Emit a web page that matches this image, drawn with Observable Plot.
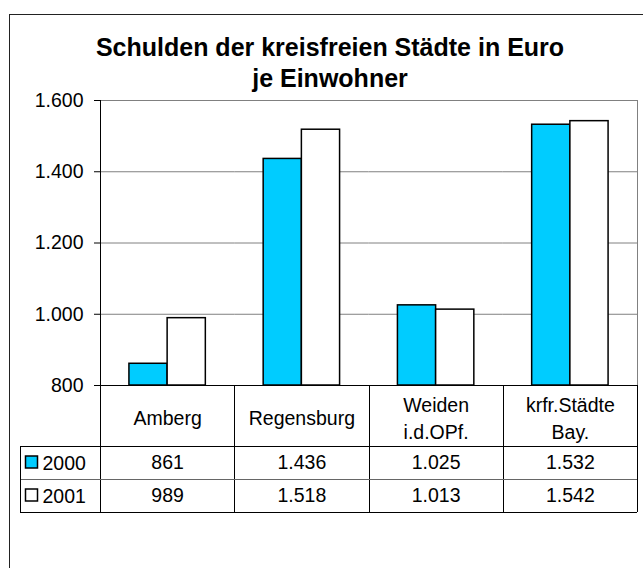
<!DOCTYPE html>
<html><head><meta charset="utf-8">
<script src="https://cdn.jsdelivr.net/npm/d3@7"></script>
<script src="https://cdn.jsdelivr.net/npm/@observablehq/plot@0.6"></script>
<style>
body{margin:0;background:#fff;}
#wrap{position:relative;width:643px;height:568px;overflow:hidden;background:#fff;font-family:"Liberation Sans",Arial,sans-serif;}
#frame{position:absolute;left:9px;top:14px;width:700px;height:600px;border-left:1px solid #222;border-top:1px solid #222;}
#chart{position:absolute;left:0;top:0;}
#title{position:absolute;left:0;width:660px;top:32px;text-align:center;font-weight:bold;font-size:25px;line-height:31px;color:#000;}
</style></head>
<body>
<div id="wrap">
  <div id="frame"></div>
  <div id="chart"></div>
  <div id="title">Schulden der kreisfreien Städte in Euro<br>je Einwohner</div>
</div>
<script>
const cities = ["Amberg", "Regensburg", "Weiden i.d.OPf.", "krfr.Städte Bay."];
const cityLabels = ["Amberg", "Regensburg", "Weiden\ni.d.OPf.", "krfr.Städte\nBay."];
const years = ["2000", "2001"];
const values2000 = [861, 1436, 1025, 1532];
const values2001 = [989, 1518, 1013, 1542];
const yTicks = [800, 1000, 1200, 1400, 1600];
const yDomain = [800, 1600];
const yearColors = ["#00CCFF", "#FFFFFF"];

const de = d3.formatLocale({decimal: ",", thousands: ".", grouping: [3], currency: ["", "€"]});
const fmt = de.format(",d");

const seriesValues = [values2000, values2001];
const data = [];
years.forEach((yr, j) => cities.forEach((c, i) => data.push({city: c, year: yr, value: seriesValues[j][i], row: j})));
const labelOf = new Map(cities.map((c, i) => [c, cityLabels[i]]));

const FS = 19.5;
const plot = Plot.plot({
  width: 643, height: 568,
  marginTop: 100, marginBottom: 183, marginLeft: 100, marginRight: 6,
  style: {fontFamily: "'Liberation Sans', Arial, sans-serif", fontSize: FS + "px", background: "transparent", color: "#000", overflow: "visible"},
  fx: {domain: cities, padding: 0, axis: null, round: false, label: null},
  x: {domain: years, paddingInner: 0, paddingOuter: 0.757, axis: null, round: false},
  y: {domain: yDomain, ticks: yTicks, tickFormat: fmt, tickSize: 6, tickPadding: 11, label: null},
  color: {domain: years, range: yearColors},
  marks: [
    Plot.ruleY(yTicks.slice(1, -1), {y: d => d, stroke: "#808080", strokeWidth: 1}),
    Plot.barY(data, {fx: "city", x: "year", y1: yDomain[0], y2: "value", fill: "year", stroke: "#000", strokeWidth: 1.5}),
    Plot.text(cities, {fx: d => d, text: d => labelOf.get(d), frameAnchor: "bottom", lineAnchor: "middle", dy: 31, lineHeight: 1.38}),
    Plot.text(data.filter(d => d.row === 0), {fx: "city", text: d => fmt(d.value), frameAnchor: "bottom", lineAnchor: "middle", dy: 77.5}),
    Plot.text(data.filter(d => d.row === 1), {fx: "city", text: d => fmt(d.value), frameAnchor: "bottom", lineAnchor: "middle", dy: 110.5})
  ]
});
document.getElementById("chart").appendChild(plot);

// table grid, frame borders and legend keys, positioned from the plot's scales
const fxS = plot.scale("fx");
const yS = plot.scale("y");
const xL = fxS.range[0], xR = fxS.range[1];
const yTop = yS.apply(yDomain[1]), yBase = yS.apply(yDomain[0]);
const headH = 61, rowH = 33, tableLeft = 20;
const svg = d3.select(plot);
const g = svg.append("g").attr("shape-rendering", "crispEdges").attr("fill", "none");
const line = (x1, y1, x2, y2, stroke, w = 1) => g.append("line").attr("x1", x1).attr("y1", y1).attr("x2", x2).attr("y2", y2).attr("stroke", stroke).attr("stroke-width", w);
const r = v => Math.round(v) + 0.5;
// plot area border (top/right gray)
line(xL, r(yTop), xR, r(yTop), "#808080", 1.5);
line(r(xR), yTop, r(xR), yBase, "#808080", 1.5);
// axis lines
line(r(xL), yTop, r(xL), yBase + headH + 2 * rowH, "#000");
line(xL - 6, r(yBase), xR, r(yBase), "#000");
// column separators
const edges = cities.slice(1).map(c => fxS.apply(c)).concat([xR]);
edges.forEach(x => line(r(x), yBase, r(x), yBase + headH + 2 * rowH, "#000"));
// row lines
[headH, headH + rowH, headH + 2 * rowH].forEach((dy, k) => line(tableLeft, r(yBase + dy), xR, r(yBase + dy), k === 1 ? "#666" : "#000"));
line(r(tableLeft), yBase + headH, r(tableLeft), yBase + headH + 2 * rowH, "#000");
// legend keys
years.forEach((yr, j) => {
  const cy = yBase + headH + rowH * j + rowH / 2;
  svg.append("rect").attr("x", 25.5).attr("y", cy - 6.5).attr("width", 12).attr("height", 12)
    .attr("fill", yearColors[j]).attr("stroke", "#000").attr("stroke-width", 1.5);
  svg.append("text").attr("x", 42.5).attr("y", cy + 7).attr("text-anchor", "start")
    .attr("font-size", FS).attr("fill", "#000").text(yr);
});
</script>
</body></html>
